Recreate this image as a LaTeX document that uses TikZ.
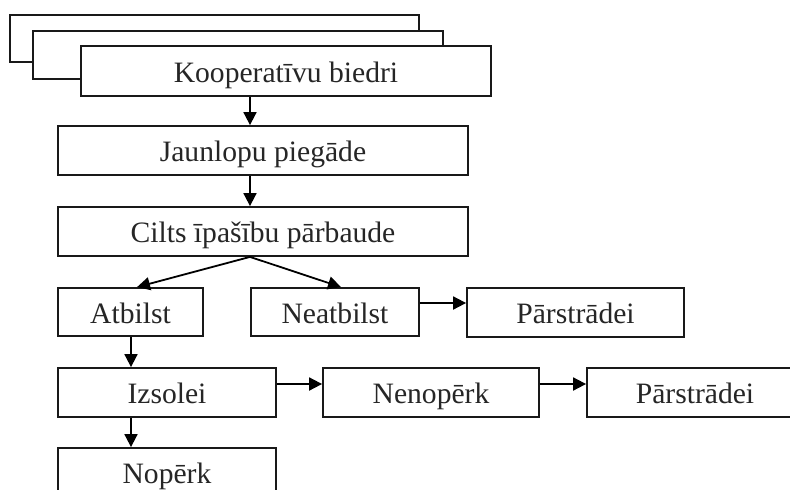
\documentclass[tikz,border=0pt]{standalone}
\usepackage{fontspec}
\setmainfont{Liberation Serif}
\usetikzlibrary{arrows.meta}
\tikzset{
  box/.style={draw=black!90, line width=1.8pt, fill=white, inner sep=0pt,
    text height=22.5pt, text depth=0pt,
    font=\fontsize{29.6}{32}\selectfont, text=black!85},
  arr/.style={draw=black, line width=1.8pt, -{Triangle[length=13pt,width=13pt]}},
}
\begin{document}
\begin{tikzpicture}[x=1pt,y=-1pt]
\useasboundingbox (0,0) rectangle (790,490);
\clip (0,0) rectangle (790,490);
% stacked boxes
\node[box, minimum width=409pt, minimum height=47pt] (back) at (214.5,38.5) {};
\node[box, minimum width=410pt, minimum height=48pt] (mid) at (238,55) {};
\node[box, minimum width=410pt, minimum height=50pt] (koop) at (286,71) {Kooperatīvu biedri};
\node[box, minimum width=410pt, minimum height=49pt] (jaun) at (263,150.5) {Jaunlopu piegāde};
\node[box, minimum width=410pt, minimum height=49pt] (cilts) at (263,231.5) {Cilts īpašību pārbaude};
\node[box, minimum width=145pt, minimum height=48pt] (atb) at (130.5,312) {Atbilst};
\node[box, minimum width=168pt, minimum height=48pt] (neat) at (335,312) {Neatbilst};
\node[box, minimum width=217pt, minimum height=49pt] (par1) at (575.5,312.5) {Pārstrādei};
\node[box, minimum width=218pt, minimum height=49pt] (izs) at (167,392.5) {Izsolei};
\node[box, minimum width=216pt, minimum height=49pt] (nen) at (431,392.5) {Nenopērk};
\node[box, minimum width=216pt, minimum height=49pt] (par2) at (695,392.5) {Pārstrādei};
\node[box, minimum width=218pt, minimum height=49pt] (nop) at (167,472.5) {Nopērk};
% helper coordinates
\coordinate (cx) at (250,0);
\coordinate (ax) at (131,0);
\coordinate (at) at (137,0);
\coordinate (nt) at (341,0);
\coordinate (r1) at (0,303);
\coordinate (r2) at (0,384);
% connectors
\draw[arr] (koop.south -| cx) -- (jaun.north -| cx);
\draw[arr] (jaun.south -| cx) -- (cilts.north -| cx);
\draw[arr] (cilts.south -| cx) -- (atb.north -| at);
\draw[arr] (cilts.south -| cx) -- (neat.north -| nt);
\draw[arr] (neat.east |- r1) -- (par1.west |- r1);
\draw[arr] (atb.south -| ax) -- (izs.north -| ax);
\draw[arr] (izs.east |- r2) -- (nen.west |- r2);
\draw[arr] (nen.east |- r2) -- (par2.west |- r2);
\draw[arr] (izs.south -| ax) -- (nop.north -| ax);
\end{tikzpicture}
\end{document}
